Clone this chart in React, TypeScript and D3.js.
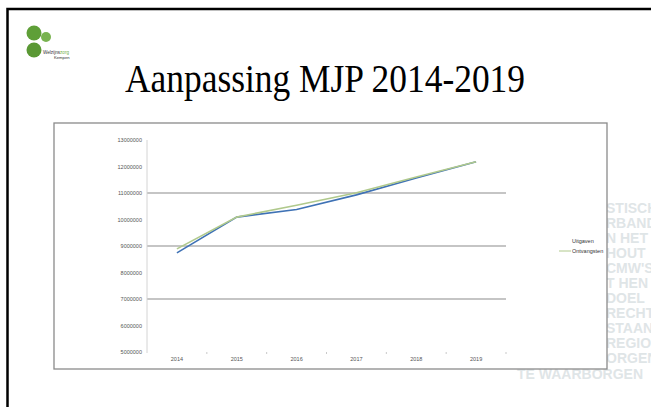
import React from "react";
import * as d3 from "d3";

const years = ["2014", "2015", "2016", "2017", "2018", "2019"];
const uitgaven = [8740000, 10090000, 10380000, 10930000, 11570000, 12180000];
const ontvangsten = [8890000, 10090000, 10540000, 11010000, 11600000, 12180000];
const yTicks = [5000000, 6000000, 7000000, 8000000, 9000000, 10000000, 11000000, 12000000, 13000000];
const gridValues = [7000000, 9000000, 11000000];
const seriesNames = ["Uitgaven", "Ontvangsten"];
const watermark = ["STISCH", "RBAND", "N HET", "HOUT", "CMW'S", "T HEN", "DOEL", "RECHT", "STAAN", "REGIO", "ORGEN"];

const W = 651;
const H = 407;

export default function App() {
  const x = d3.scaleBand<string>().domain(years).range([147, 506]);
  const y = d3.scaleLinear().domain([5000000, 13000000]).range([352, 140]);
  const line = d3
    .line<number>()
    .x((_, i) => (x(years[i]) as number) + x.bandwidth() / 2)
    .y((v) => y(v));
  const wmY = d3.scaleLinear().domain([0, watermark.length - 1]).range([208, 358]);
  const tickXs = years.map((yr) => (x(yr) as number) + x.bandwidth());

  return (
    <svg
      width={W}
      height={H}
      style={{ position: "absolute", left: 0, top: 0, background: "#fff" }}
    >
      <rect x={0} y={0} width={W} height={H} fill="#fff" />
      {/* slide border */}
      <rect x={7.5} y={9} width={W + 10} height={H + 10} fill="none" stroke="#000" strokeWidth={2.5} />

      {/* logo */}
      <g>
        <circle cx={34} cy={33} r={7.5} fill="#5f9f38" />
        <circle cx={46} cy={37} r={5} fill="#79b350" />
        <circle cx={34} cy={50} r={7.5} fill="#5a9834" />
        <text x={43} y={54} fontSize={4.6} fontFamily="Arial, Liberation Sans, sans-serif" fill="#333">
          Welzijns<tspan fill="#6fae45">zorg</tspan>
        </text>
        <text x={54} y={59} fontSize={4.2} fontFamily="Arial, Liberation Sans, sans-serif" fill="#333">
          Kempen
        </text>
      </g>

      {/* title */}
      <text
        x={125}
        y={92}
        fontSize={39}
        textLength={400}
        lengthAdjust="spacingAndGlyphs"
        fontFamily="'Liberation Serif', 'Times New Roman', serif"
        fill="#000"
      >
        Aanpassing MJP 2014-2019
      </text>

      {/* watermark */}
      <g fontFamily="'Liberation Sans', sans-serif" fontWeight="bold" fontSize={14} fill="#dfe5e7">
        {watermark.map((w, i) => (
          <text key={i} x={606} y={wmY(i) + 5}>
            {w}
          </text>
        ))}
        <text x={517} y={379}>TE WAARBORGEN</text>
      </g>

      {/* chart box */}
      <rect x={54} y={123} width={553} height={246} fill="#fff" stroke="#8a8a8a" strokeWidth={1.3} />

      {/* gridlines */}
      {gridValues.map((v) => (
        <line key={v} x1={147} x2={506} y1={y(v)} y2={y(v)} stroke="#8c8c8c" strokeWidth={1.2} />
      ))}

      {/* y axis */}
      <line x1={147} x2={147} y1={140} y2={353} stroke="#d4d4d4" strokeWidth={1} />
      {yTicks.map((t) => (
        <text
          key={t}
          x={142}
          y={y(t) + 2}
          textAnchor="end"
          fontSize={5.5}
          fontFamily="'Liberation Sans', Arial, sans-serif"
          fill="#555"
        >
          {t}
        </text>
      ))}

      {/* x ticks & labels */}
      {tickXs.map((tx, i) => (
        <line key={i} x1={tx} x2={tx} y1={352} y2={354} stroke="#bbb" strokeWidth={0.8} />
      ))}
      {years.map((yr) => (
        <text
          key={yr}
          x={(x(yr) as number) + x.bandwidth() / 2}
          y={361}
          textAnchor="middle"
          fontSize={5.5}
          fontFamily="'Liberation Sans', Arial, sans-serif"
          fill="#555"
        >
          {yr}
        </text>
      ))}

      {/* series */}
      <path d={line(uitgaven) || ""} fill="none" stroke="#3f72b5" strokeWidth={1.6} />
      <path d={line(ontvangsten) || ""} fill="none" stroke="#b0c98c" strokeWidth={1.6} />

      {/* legend */}
      <text x={572} y={243} fontSize={5.5} fontFamily="'Liberation Sans', Arial, sans-serif" fill="#333">
        {seriesNames[0]}
      </text>
      <line x1={559} x2={571} y1={251} y2={251} stroke="#b0c98c" strokeWidth={1} />
      <text x={572} y={253} fontSize={5.5} fontFamily="'Liberation Sans', Arial, sans-serif" fill="#333">
        {seriesNames[1]}
      </text>
    </svg>
  );
}
